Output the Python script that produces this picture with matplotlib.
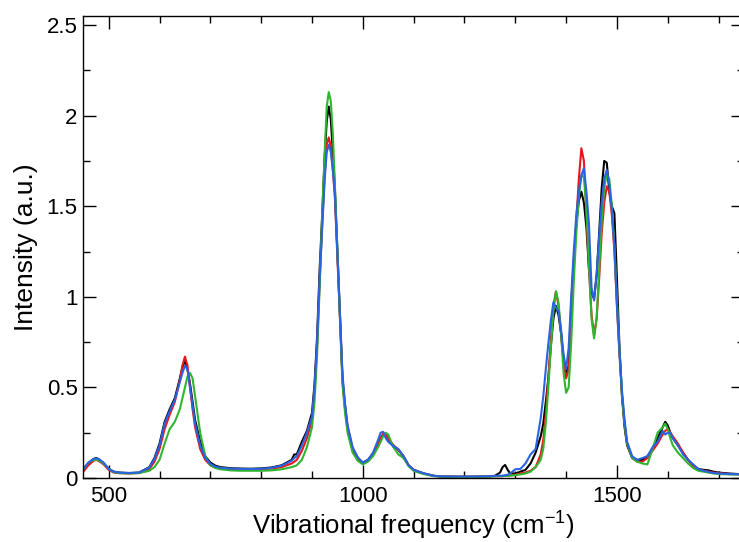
import numpy as np
import matplotlib
matplotlib.use('Agg')
import matplotlib.pyplot as plt
from matplotlib.ticker import MultipleLocator

plt.rcParams['font.family'] = ['Liberation Sans', 'DejaVu Sans']
plt.rcParams['mathtext.fontset'] = 'custom'
plt.rcParams['mathtext.rm'] = 'Liberation Sans'

# vibrational frequency grid (cm-1)
freq = [450, 460, 470, 475, 480, 490, 500, 510, 520, 540,
        560, 580, 590, 600, 610, 620, 630, 640, 645, 650,
        655, 660, 665, 670, 680, 690, 700, 710, 720, 740,
        760, 780, 800, 820, 840, 860, 865, 870, 880, 890,
        900, 905, 910, 915, 920, 925, 929, 933, 937, 941,
        945, 950, 955, 960, 965, 970, 980, 990, 1000, 1010,
        1020, 1030, 1035, 1040, 1045, 1050, 1060, 1070, 1080, 1090,
        1100, 1110, 1120, 1140, 1160, 1180, 1200, 1220, 1240, 1260,
        1270, 1275, 1280, 1285, 1290, 1300, 1310, 1320, 1330, 1340,
        1350, 1355, 1360, 1365, 1370, 1375, 1380, 1385, 1390, 1395,
        1400, 1405, 1410, 1415, 1420, 1425, 1430, 1435, 1440, 1445,
        1450, 1455, 1460, 1465, 1470, 1475, 1480, 1485, 1490, 1495,
        1500, 1505, 1510, 1515, 1520, 1530, 1540, 1550, 1560, 1570,
        1580, 1590, 1595, 1600, 1605, 1610, 1620, 1630, 1640, 1650,
        1660, 1670, 1680, 1690, 1700, 1720, 1750]

black = [.045, .08, .105, .11, .105, .08, .05, .035, .03, .027,
         .03, .06, .11, .19, .31, .38, .44, .55, .61, .65,
         .6, .52, .42, .32, .2, .12, .085, .068, .06, .054,
         .052, .051, .053, .058, .07, .1, .13, .13, .2, .26,
         .36, .52, .78, 1.15, 1.45, 1.78, 1.97, 2.05, 1.98, 1.8,
         1.6, 1.25, .9, .55, .4, .28, .16, .11, .085, .1,
         .13, .19, .22, .24, .24, .215, .18, .155, .12, .07,
         .045, .035, .025, .012, .008, .007, .007, .007, .008, .012,
         .03, .06, .072, .045, .025, .025, .035, .045, .08, .14,
         .23, .3, .42, .55, .73, .88, .95, .9, .8, .66,
         .58, .62, .95, 1.2, 1.4, 1.53, 1.58, 1.52, 1.38, 1.15,
         1.02, .99, 1.12, 1.35, 1.6, 1.75, 1.74, 1.58, 1.5, 1.46,
         1.1, .72, .45, .28, .18, .11, .1, .1, .12, .16,
         .22, .28, .31, .29, .25, .22, .18, .14, .1, .07,
         .05, .045, .042, .035, .03, .025, .02]

red = [.035, .07, .095, .1, .095, .075, .045, .03, .027, .025,
       .028, .05, .09, .16, .27, .35, .42, .54, .62, .67,
       .62, .5, .38, .28, .16, .1, .07, .058, .052, .048,
       .047, .047, .048, .052, .06, .08, .09, .1, .15, .22,
       .32, .48, .73, 1.08, 1.4, 1.68, 1.84, 1.88, 1.83, 1.7,
       1.55, 1.22, .88, .53, .38, .27, .15, .1, .08, .095,
       .13, .19, .22, .245, .245, .215, .18, .155, .12, .07,
       .045, .033, .024, .011, .008, .007, .007, .007, .008, .01,
       .01, .01, .012, .012, .014, .018, .025, .03, .04, .06,
       .13, .21, .35, .55, .76, .95, 1.03, .95, .8, .63,
       .55, .6, .85, 1.15, 1.42, 1.65, 1.82, 1.75, 1.45, 1.15,
       .9, .79, .88, 1.1, 1.35, 1.52, 1.61, 1.58, 1.45, 1.25,
       .95, .68, .45, .3, .19, .11, .09, .09, .11, .15,
       .19, .24, .26, .27, .25, .23, .19, .14, .1, .065,
       .045, .04, .035, .03, .027, .022, .02]

green = [.05, .085, .1, .1, .098, .08, .05, .033, .027, .025,
         .027, .04, .06, .1, .19, .27, .31, .38, .44, .5,
         .56, .58, .55, .45, .25, .12, .07, .055, .048, .042,
         .04, .04, .04, .042, .048, .06, .065, .07, .1, .17,
         .28, .42, .68, 1.05, 1.45, 1.8, 2.05, 2.13, 2.08, 1.9,
         1.62, 1.25, .88, .52, .36, .25, .14, .095, .075, .09,
         .12, .17, .2, .23, .25, .24, .17, .13, .11, .065,
         .04, .03, .022, .01, .007, .006, .006, .006, .007, .009,
         .01, .01, .011, .012, .013, .016, .02, .025, .035, .06,
         .1, .16, .3, .5, .72, .92, 1.03, .97, .8, .58,
         .47, .5, .75, 1.08, 1.35, 1.55, 1.67, 1.66, 1.48, 1.18,
         .88, .77, .88, 1.15, 1.42, 1.6, 1.68, 1.65, 1.5, 1.28,
         .98, .7, .46, .3, .19, .11, .09, .08, .075, .16,
         .25, .28, .3, .27, .22, .18, .14, .11, .08, .055,
         .04, .035, .03, .025, .022, .02, .018]

blue = [.05, .085, .105, .108, .105, .085, .05, .035, .03, .028,
        .03, .058, .105, .18, .3, .37, .43, .53, .58, .62,
        .6, .5, .4, .3, .18, .11, .078, .063, .057, .052,
        .05, .05, .051, .056, .068, .095, .11, .12, .18, .25,
        .34, .5, .75, 1.1, 1.38, 1.65, 1.8, 1.84, 1.8, 1.7,
        1.57, 1.24, .9, .57, .41, .29, .17, .115, .085, .1,
        .14, .21, .25, .255, .22, .2, .175, .16, .12, .07,
        .045, .035, .026, .012, .008, .008, .008, .008, .009, .011,
        .012, .013, .015, .018, .025, .048, .05, .08, .13, .16,
        .33, .45, .6, .74, .87, .97, .94, .92, .82, .68,
        .6, .72, 1.0, 1.25, 1.45, 1.58, 1.67, 1.71, 1.58, 1.4,
        1.05, .98, 1.12, 1.33, 1.52, 1.65, 1.7, 1.62, 1.48, 1.28,
        .95, .7, .48, .32, .2, .12, .1, .11, .12, .17,
        .2, .26, .24, .25, .25, .22, .18, .13, .1, .075,
        .05, .04, .033, .028, .025, .022, .02]

series = [(black, '#000000'), (red, '#e8161b'), (green, '#2fb52f'), (blue, '#2a62e0')]

fig = plt.figure(figsize=(7.39, 5.42), dpi=100)
ax = fig.add_axes([83.3 / 739, 64 / 542, (744 - 83.3) / 739, (478 - 16) / 542])

for ys, col in series:
    ax.plot(freq, ys, color=col, lw=1.5)

ax.set_xlim(450, 1750)
ax.set_ylim(0, 2.55)
ax.xaxis.set_major_locator(MultipleLocator(500))
ax.xaxis.set_minor_locator(MultipleLocator(100))
ax.yaxis.set_minor_locator(MultipleLocator(0.25))
ax.set_yticks([0, 0.5, 1, 1.5, 2, 2.5])
ax.set_yticklabels(['0', '0.5', '1', '1.5', '2', '2.5'])

ax.tick_params(which='both', direction='in', top=True, right=True, width=1.0, labelsize=16)
ax.tick_params(which='major', length=9.5)
ax.tick_params(which='minor', length=5)
ax.tick_params(axis='x', pad=6)
ax.tick_params(axis='y', pad=4)
for sp in ax.spines.values():
    sp.set_linewidth(1.0)

ax.set_xlabel('Vibrational frequency (cm$^{-1}$)', fontsize=18.5, labelpad=0.5)
ax.set_ylabel('Intensity (a.u.)', fontsize=19, labelpad=6)

fig.savefig('out.png', dpi=100)
